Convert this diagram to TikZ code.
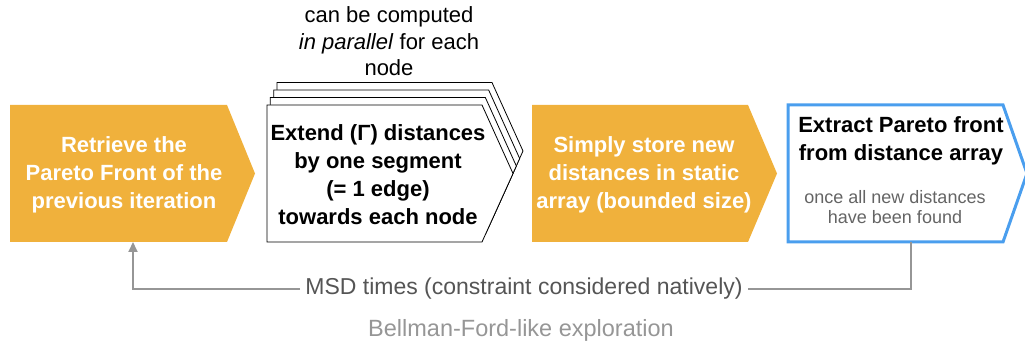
\documentclass[tikz,border=0pt]{standalone}
\usepackage{fontspec}
\setmainfont{Liberation Sans}
\usetikzlibrary{calc,arrows.meta}
\definecolor{orng}{RGB}{240,177,60}
\definecolor{blu}{RGB}{74,158,238}
\definecolor{lngray}{RGB}{150,150,150}
\definecolor{txgray}{RGB}{85,85,85}
\definecolor{ltgray}{RGB}{150,150,150}
\definecolor{smgray}{RGB}{100,100,100}
\tikzset{
  body/.style={minimum width=217pt, minimum height=137pt, inner sep=0pt, outer sep=0pt},
  bigtxt/.style={align=center, inner sep=0pt, font=\fontsize{22}{28}\selectfont\bfseries},
  toptxt/.style={align=center, inner sep=0pt, font=\fontsize{22}{26.5}\selectfont},
  smalltxt/.style={align=center, inner sep=0pt, text=smgray, font=\fontsize{18}{20}\selectfont},
  feedback/.style={draw=lngray, line width=2pt},
  stackbox/.style={fill=white, draw=black, line width=0.8pt, line join=miter}
}
\begin{document}
\begin{tikzpicture}[x=1pt,y=-1pt]
\useasboundingbox (0,0) rectangle (1025,347);

% box 1
\node[body] (b1) at (118.5,173.5) {};
\fill[orng] (b1.north west) -- (b1.north east) -- ($(b1.east)+(28,0)$) -- (b1.south east) -- (b1.south west) -- cycle;
\node[bigtxt, text=white] (t1) at (124,175) {Retrieve the\\Pareto Front of the\\previous iteration};

% box 2 (stack)
\node[body, minimum width=215pt] (b2) at (374.5,173.5) {};
\foreach \k in {3,2,1,0}{
  \draw[stackbox] ($(b2.north west)+(3.33*\k,-7.5*\k)$) -- ($(b2.north east)+(3.33*\k,-7.5*\k)$)
     -- ($(b2.east)+(31+3.33*\k,-7.5*\k)$) -- ($(b2.south east)+(3.33*\k,-7.5*\k)$)
     -- ($(b2.south west)+(3.33*\k,-7.5*\k)$) -- cycle;
}
\node[bigtxt, text=black] (t2) at (378,174.5) {Extend (Γ) distances\\by one segment\\(= 1 edge)\\towards each node};
\node[toptxt] (top) at (389,41.5) {can be computed\\\textit{in parallel} for each\\node};

% box 3
\node[body, minimum width=216pt] (b3) at (640,173.5) {};
\fill[orng] (b3.north west) -- (b3.north east) -- ($(b3.east)+(29,0)$) -- (b3.south east) -- (b3.south west) -- cycle;
\node[bigtxt, text=white] (t3) at (644,175) {Simply store new\\distances in static\\array (bounded size)};

% box 4
\node[body, minimum width=215pt] (b4) at (895.5,173.5) {};
\draw[blu, line width=3pt, line join=miter] (b4.north west) -- (b4.north east) -- ($(b4.east)+(24,0)$) -- (b4.south east) -- (b4.south west) -- cycle;
\node[bigtxt, text=black] (t4) at (901,141) {Extract Pareto front\\from distance array};
\node[smalltxt] (s4) at (895,207) {once all new distances\\have been found};

% feedback
\coordinate (c1) at ($(b1.south west)+(123,0)$);
\coordinate (c4) at ($(b4.south west)+(123,0)$);
\node[text=txgray, fill=white, inner sep=5pt, font=\fontsize{23}{26}\selectfont] (lab) at (524,289) {MSD times (constraint considered natively)};
\draw[feedback] (c4) |- (lab.east);
\draw[feedback, -{Triangle[width=9pt,length=10pt]}, lngray] (lab.west) -| (c1);

\node[text=ltgray, inner sep=0pt, font=\fontsize{23.5}{26}\selectfont] (bf) at (521,330) {Bellman-Ford-like exploration};
\end{tikzpicture}
\end{document}
